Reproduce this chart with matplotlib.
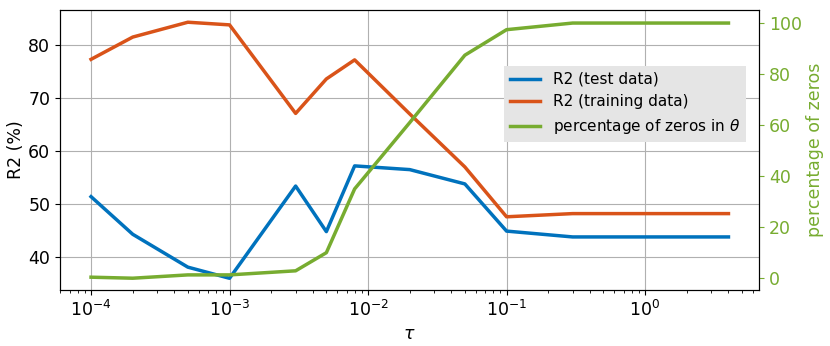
import matplotlib
matplotlib.use('Agg')
import matplotlib.pyplot as plt

# regularisation strength
tau = [1e-4, 2e-4, 5e-4, 1e-3, 3e-3, 5e-3, 8e-3, 2e-2, 5e-2, 1e-1, 3e-1, 4.0]
r2_test = [51.4, 44.3, 38.1, 36.0, 53.4, 44.8, 57.2, 56.5, 53.8, 44.9, 43.8, 43.8]
r2_train = [77.3, 81.5, 84.3, 83.8, 67.1, 73.6, 77.2, 67.0, 57.0, 47.6, 48.2, 48.2]
zeros_pct = [0.4, 0.0, 1.3, 1.3, 2.9, 10.0, 35.0, 61.0, 87.4, 97.4, 100.0, 100.0]

c_test = '#0072BD'
c_train = '#D95319'
c_zero = '#77AC30'

fig = plt.figure(figsize=(8.3, 3.46), dpi=100)
ax = fig.add_axes([0.0723, 0.162, 0.8422, 0.809])
ax2 = ax.twinx()

l1, = ax.plot(tau, r2_test, color=c_test, lw=2.5, label='R2 (test data)')
l2, = ax.plot(tau, r2_train, color=c_train, lw=2.5, label='R2 (training data)')
l3, = ax2.plot(tau, zeros_pct, color=c_zero, lw=2.5, label=r'percentage of zeros in $\theta$')

ax.set_xscale('log')
ax.set_xlim(5.97e-5, 6.65)
ax.set_ylim(33.8, 86.6)
ax2.set_ylim(-4.6, 105.1)
ax.set_yticks([40, 50, 60, 70, 80])
ax2.set_yticks([0, 20, 40, 60, 80, 100])

ax.grid(True, which='major', color='#b0b0b0', lw=0.8)
ax.set_xlabel(r'$\tau$', fontsize=12.5)
ax.set_ylabel('R2 (%)', fontsize=12.5, labelpad=2)
ax2.set_ylabel('percentage of zeros', fontsize=12.5, color=c_zero, labelpad=3)
ax.tick_params(labelsize=12.5)
ax2.tick_params(labelsize=12.5, colors=c_zero)

leg = ax.legend(handles=[l1, l2, l3], loc='upper right', bbox_to_anchor=(0.981, 0.801),
                borderaxespad=0, fontsize=11, frameon=True, fancybox=False)
leg.get_frame().set_facecolor('#e5e5e5')
leg.get_frame().set_edgecolor('none')
leg.get_frame().set_alpha(1)

fig.savefig('out.png', dpi=100)
